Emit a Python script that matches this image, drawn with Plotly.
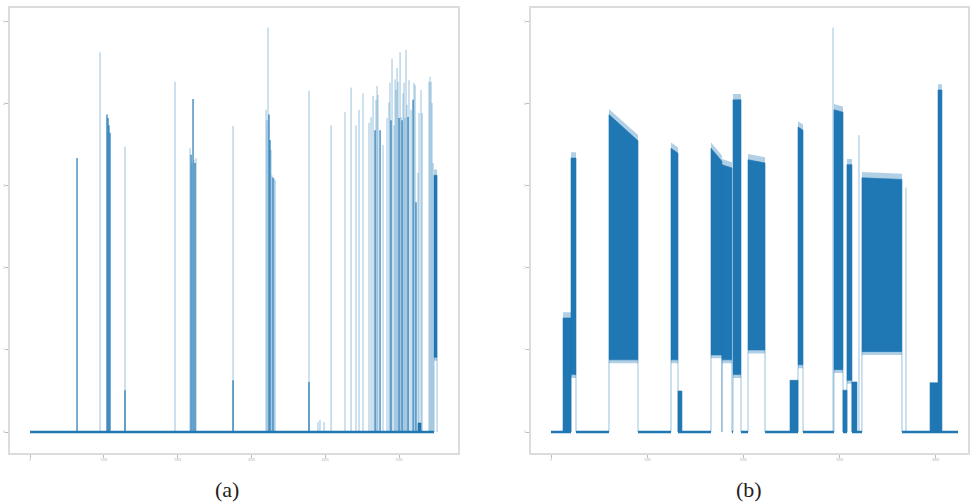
import plotly.graph_objects as go

BLUE = "#1f77b4"
FAINT = "rgba(31,119,180,0.45)"
FRINGE = "rgba(31,119,180,0.35)"

# ---------------- Panel (a) data ----------------
A_SIGNAL_END = 5474
A_STRONG_X = [637, 1043, 1057, 1070, 1084, 1287, 2182, 2209, 2236, 2751, 3238, 3252, 3292,
              4675, 4743, 4891, 5000, 5041, 5122, 5190, 5230, 3780]
A_STRONG_Y = [3.34, 3.87, 3.83, 3.74, 3.65, 0.51, 3.38, 4.06, 3.28, 0.63, 3.87, 3.56, 3.10,
              3.68, 3.68, 3.80, 3.83, 3.80, 3.84, 4.05, 2.80, 0.61]
A_FAINT_X = [949, 1287, 1965, 2168, 2195, 2222, 2249, 2751, 3198, 3211, 3225, 3265, 3279, 3306,
             3320, 3780, 3902, 3929, 3984, 4079, 4268, 4350, 4417, 4458, 4512, 4593, 4621, 4648,
             4688, 4702, 4715, 4783, 4837, 4864, 4878, 4905, 4932, 4946, 4959, 4973, 4986, 5014,
             5027, 5054, 5068, 5081, 5095, 5108, 5135, 5163, 5203, 5217, 5257, 5271, 5298, 5312,
             5406, 5420, 5434, 5447, 5461]
A_FAINT_Y = [4.63, 3.48, 4.27, 3.46, 3.28, 3.32, 3.34, 3.73, 3.93, 3.80, 4.93, 3.44, 3.13, 3.10,
             3.07, 4.16, 0.12, 0.15, 0.12, 3.74, 3.90, 4.20, 3.74, 3.93, 4.13, 3.77, 3.84, 4.10,
             4.05, 4.22, 4.11, 3.50, 3.83, 4.02, 4.26, 4.55, 3.74, 4.30, 4.17, 4.44, 4.27, 4.63,
             3.84, 4.13, 4.26, 3.83, 4.66, 3.99, 4.29, 3.93, 4.26, 4.23, 3.16, 3.89, 4.17, 3.89,
             4.27, 4.33, 4.27, 4.01, 3.28]
A_BURST_START = [5474, 5257]
A_BURST_END = [5515, 5298]
A_BURST_LOW = [0.91, 0.0]
A_BURST_HIGH_START = [3.13, 0.11]
A_BURST_HIGH_END = [3.13, 0.11]

# ---------------- Panel (b) data ----------------
B_SIGNAL_END = 4233
B_BURST_START = [125, 208, 603, 1248, 1321, 1664, 1778, 1893, 2049, 2486, 2569, 2943, 3037,
                 3078, 3130, 3234, 3942, 4025]
B_BURST_END = [208, 260, 905, 1321, 1362, 1778, 1882, 1976, 2226, 2569, 2621, 3037, 3078,
               3130, 3182, 3650, 4025, 4066]
B_BURST_LOW = [0.0, 0.70, 0.88, 0.88, 0.0, 0.94, 0.88, 0.70, 1.00, 0.0, 0.82, 0.76, 0.0,
               0.63, 0.0, 0.98, 0.0, 0.0]
B_BURST_HIGH_START = [1.39, 3.34, 3.87, 3.46, 0.50, 3.46, 3.26, 4.05, 3.32, 0.63, 3.72, 3.93,
                      0.51, 3.26, 0.61, 3.10, 0.60, 4.17]
B_BURST_HIGH_END = [1.39, 3.34, 3.55, 3.40, 0.50, 3.30, 3.22, 4.05, 3.28, 0.63, 3.68, 3.90,
                    0.51, 3.26, 0.61, 3.08, 0.60, 4.17]
B_FAINT_X = [2933, 3203, 3692]
B_FAINT_Y = [4.93, 3.62, 2.98]


def baseline_xy(x_end, starts, ends, lows):
    gaps = sorted((s, e) for s, e, l in zip(starts, ends, lows) if l > 0)
    xs, ys, cur = [], [], 0
    for s, e in gaps:
        if s > cur:
            xs += [cur, min(s, x_end), None]
            ys += [0, 0, None]
        cur = max(cur, e)
    if cur < x_end:
        xs += [cur, x_end]
        ys += [0, 0]
    return xs, ys


def spikes_xy(xs, ys):
    ox, oy = [], []
    for x, y in zip(xs, ys):
        ox += [x, x, None]
        oy += [0, y, None]
    return ox, oy


def bursts_xy(starts, ends, lows, hs, he):
    ox, oy = [], []
    for s, e, l, a, b in zip(starts, ends, lows, hs, he):
        ox += [s, s, e, e, s, None]
        oy += [l, a, b, l, l, None]
    return ox, oy


def fringe_xy(starts, ends, lows, hs, he, pad):
    # light bands just above the top and just below the floor of each burst
    ox, oy = [], []
    for s, e, l, a, b in zip(starts, ends, lows, hs, he):
        if a - l < 0.8:
            continue
        ox += [s, s, e, e, s, None]
        oy += [a - pad, a + pad, b + pad, b - pad, a - pad, None]
        if l > 0:
            ox += [s, s, e, e, s, None]
            oy += [l - pad * 0.6, l + pad * 0.6, l + pad * 0.6, l - pad * 0.6, l - pad * 0.6, None]
    return ox, oy


def edges_xy(starts, ends, lows):
    ox, oy = [], []
    for s, e, l in zip(starts, ends, lows):
        if l > 0:
            ox += [s, s, None, e, e, None]
            oy += [0, l, None, 0, l, None]
    return ox, oy


fig = go.Figure()


def add_panel(xa, ya, sig_end, bs, be, bl, bhs, bhe, fx, fy, sx=None, sy=None):
    x, y = baseline_xy(sig_end, bs, be, bl)
    fig.add_trace(go.Scatter(x=x, y=y, mode="lines", line=dict(color=BLUE, width=2.5),
                             xaxis=xa, yaxis=ya, hoverinfo="skip"))
    x, y = edges_xy(bs, be, bl)
    fig.add_trace(go.Scatter(x=x, y=y, mode="lines", line=dict(color=FAINT, width=1),
                             xaxis=xa, yaxis=ya, hoverinfo="skip"))
    x, y = spikes_xy(fx, fy)
    fig.add_trace(go.Scatter(x=x, y=y, mode="lines", line=dict(color=FAINT, width=1),
                             xaxis=xa, yaxis=ya, hoverinfo="skip"))
    if sx:
        x, y = spikes_xy(sx, sy)
        fig.add_trace(go.Scatter(x=x, y=y, mode="lines", line=dict(color=BLUE, width=1.2),
                                 xaxis=xa, yaxis=ya, hoverinfo="skip"))
    x, y = fringe_xy(bs, be, bl, bhs, bhe, 0.07)
    fig.add_trace(go.Scatter(x=x, y=y, mode="lines", fill="toself", fillcolor=FRINGE,
                             line=dict(width=0), xaxis=xa, yaxis=ya, hoverinfo="skip"))
    x, y = bursts_xy(bs, be, bl, bhs, bhe)
    fig.add_trace(go.Scatter(x=x, y=y, mode="lines", fill="toself", fillcolor=BLUE,
                             line=dict(color=BLUE, width=0.6),
                             xaxis=xa, yaxis=ya, hoverinfo="skip"))


add_panel("x", "y", A_SIGNAL_END, A_BURST_START, A_BURST_END, A_BURST_LOW,
          A_BURST_HIGH_START, A_BURST_HIGH_END, A_FAINT_X, A_FAINT_Y, A_STRONG_X, A_STRONG_Y)
add_panel("x2", "y2", B_SIGNAL_END, B_BURST_START, B_BURST_END, B_BURST_LOW,
          B_BURST_HIGH_START, B_BURST_HIGH_END, B_FAINT_X, B_FAINT_Y)

W, H = 971, 504
ax_style = dict(showline=True, mirror=True, linecolor="#dcdcdc", linewidth=1.5,
                ticks="outside", ticklen=3, tickcolor="#bbbbbb", tickwidth=1,
                tickfont=dict(size=3, color="#aaaaaa"), showgrid=False, zeroline=False)
ydom = [1 - 453 / H, 1 - 8 / H]
cap_font = dict(family="Liberation Serif", size=22, color="#222")

fig.update_layout(
    width=W, height=H, margin=dict(l=0, r=0, t=0, b=0),
    paper_bgcolor="white", plot_bgcolor="white", showlegend=False,
    xaxis=dict(domain=[10 / W, 458 / W], range=[-271, 5799], dtick=1000, anchor="y", **ax_style),
    yaxis=dict(domain=ydom, range=[-0.256, 5.17], dtick=1, anchor="x", **ax_style),
    xaxis2=dict(domain=[531 / W, 968 / W], range=[-208, 4337], dtick=1000, anchor="y2", **ax_style),
    yaxis2=dict(domain=ydom, range=[-0.256, 5.17], dtick=1, anchor="x2", **ax_style),
    annotations=[
        dict(text="(a)", x=227 / W, y=1 - 489 / H, xref="paper", yref="paper",
             xanchor="center", yanchor="middle", showarrow=False, font=cap_font),
        dict(text="(b)", x=749 / W, y=1 - 489 / H, xref="paper", yref="paper",
             xanchor="center", yanchor="middle", showarrow=False, font=cap_font),
    ],
)

fig.write_html("out.html")
